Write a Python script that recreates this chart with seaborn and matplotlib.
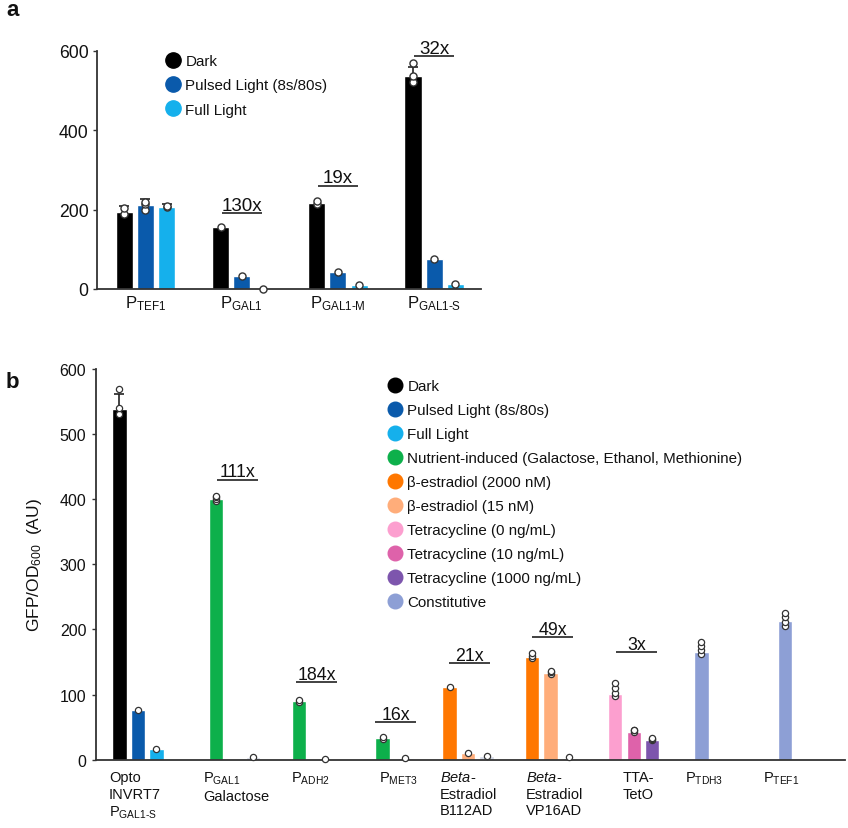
import numpy as np
import pandas as pd
import matplotlib
matplotlib.use("Agg")
import matplotlib.pyplot as plt
import seaborn as sns
from matplotlib.lines import Line2D

sns.set_theme(style="ticks")
plt.rcParams["font.family"] = ["Liberation Sans", "DejaVu Sans"]
plt.rcParams["mathtext.fontset"] = "custom"
plt.rcParams["mathtext.rm"] = "Liberation Sans"
plt.rcParams["mathtext.it"] = "Liberation Sans:italic"
plt.rcParams["mathtext.bf"] = "Liberation Sans:bold"
plt.rcParams["text.color"] = "#111111"
plt.rcParams["ytick.labelcolor"] = "#111111"
plt.rcParams["xtick.labelcolor"] = "#111111"

# ---------------- data: panel a ----------------
a_promoters = ["TEF1", "GAL1", "GAL1-M", "GAL1-S"]
a_conditions = ["Dark", "Pulsed Light (8s/80s)", "Full Light"]
a_dark = [195, 157, 216, 536]
a_pulsed = [213, 32, 44, 76]
a_full = [207, 1, 9, 13]
a_dark_err = [15, 0, 0, 24]
a_pulsed_err = [14, 0, 0, 0]
a_full_err = [8, 0, 0, 0]
a_dark_pts = [[190, 203], [157], [214, 223], [521, 536, 569]]
a_pulsed_pts = [[199, 214, 220], [32], [44], [75]]
a_full_pts = [[207, 210], [1], [9], [13]]
a_fold_labels = ["130x", "19x", "32x"]
a_fold_groups = [1, 2, 3]
a_fold_heights = [191, 260, 587]

# ---------------- data: panel b ----------------
b_groups = [
    "Opto\nINVRT7\nP$_{\\text{GAL1-S}}$",
    "P$_{\\text{GAL1}}$\nGalactose",
    "P$_{\\text{ADH2}}$",
    "P$_{\\text{MET3}}$",
    "$\\mathit{Beta}$-\nEstradiol\nB112AD",
    "$\\mathit{Beta}$-\nEstradiol\nVP16AD",
    "TTA-\nTetO",
    "P$_{\\text{TDH3}}$",
    "P$_{\\text{TEF1}}$",
]
b_conditions = [
    "Dark", "Pulsed Light (8s/80s)", "Full Light",
    "Nutrient-induced (Galactose, Ethanol, Methionine)",
    "β-estradiol (2000 nM)", "β-estradiol (15 nM)",
    "Tetracycline (0 ng/mL)", "Tetracycline (10 ng/mL)",
    "Tetracycline (1000 ng/mL)", "Constitutive",
]
b_colors = ["#000000", "#0a5aab", "#15b0ec", "#0db04b", "#ff7700",
            "#ffad7a", "#fc9fcf", "#de62aa", "#7d55ad", "#8d9fd5"]
uninduced_color = "#d3d8e6"

b_bar_group = [0, 0, 0, 1, 1, 2, 2, 3, 3, 4, 4, 4, 5, 5, 5, 6, 6, 6, 7, 8]
b_bar_cond = [
    "Dark", "Pulsed Light (8s/80s)", "Full Light",
    "Nutrient-induced (Galactose, Ethanol, Methionine)", "Uninduced",
    "Nutrient-induced (Galactose, Ethanol, Methionine)", "Uninduced",
    "Nutrient-induced (Galactose, Ethanol, Methionine)", "Uninduced",
    "β-estradiol (2000 nM)", "β-estradiol (15 nM)", "Uninduced",
    "β-estradiol (2000 nM)", "β-estradiol (15 nM)", "Uninduced",
    "Tetracycline (0 ng/mL)", "Tetracycline (10 ng/mL)", "Tetracycline (1000 ng/mL)",
    "Constitutive", "Constitutive",
]
b_bar_value = [538, 77, 17, 401, 3.6, 90.6, 0.5, 33, 2, 112, 10.5, 5.3,
               158, 133, 3.2, 101, 43, 30, 166, 213]
b_bar_err = [24, 0, 0, 0, 0, 0, 0, 0, 0, 0, 0, 0, 0, 0, 0, 0, 0, 0, 0, 0]
b_bar_pts = [[531, 540, 569], [77], [17], [397, 400, 403, 405], [3.6],
             [89, 91.5], [0.5], [32, 35], [2], [112], [11], [5],
             [156, 160, 164], [132, 134, 136], [3.5],
             [97.5, 102, 110, 118], [43, 45, 46], [30, 32, 33],
             [162, 168, 174, 180], [205, 212, 219, 225]]
b_fold_labels = ["111x", "184x", "16x", "21x", "49x", "3x"]
b_fold_heights = [430, 119, 57.4, 148.5, 188, 165]

# ---------------- layout (slot units for panel b) ----------------
b_group_center = [1.0, 6.22, 10.405, 14.84, 18.84, 23.3, 27.8, 31.46, 35.97]
b_bar_offset = [-1, 0, 1, -1, 1, -0.705, 0.705, -0.62, 0.62,
                -1, 0, 1, -1, 0, 1, -1, 0, 1, 0, 0]
b_label_x = [-0.57, 4.51, 9.27, 14.03, 17.32, 21.97, 27.22, 30.57, 34.78]
b_fold_x0 = [5.27, 9.54, 13.81, 17.81, 22.30, 26.84]
b_fold_len = 2.22

W, H = 848, 829
fig = plt.figure(figsize=(W / 100, H / 100), dpi=100)


def rect(x0, y0, x1, y1):
    return [x0 / W, 1 - y1 / H, (x1 - x0) / W, (y1 - y0) / H]


ax_a = fig.add_axes(rect(97, 52, 481, 290))
ax_b = fig.add_axes(rect(96, 370, 845, 760.7))

palette = dict(zip(b_conditions, b_colors))
palette["Uninduced"] = uninduced_color
spine_col = "#333333"
pt_edge = "#333333"

# ================= panel a =================
rows = []
for i, p in enumerate(a_promoters):
    for cond, vals in zip(a_conditions, [a_dark, a_pulsed, a_full]):
        rows.append({"promoter": p, "condition": cond, "value": vals[i]})
df_a = pd.DataFrame(rows)
sns.barplot(data=df_a, x="promoter", y="value", hue="condition",
            order=a_promoters, hue_order=a_conditions, palette=palette,
            width=0.66, gap=0.19, saturation=1, errorbar=None,
            legend=False, ax=ax_a, zorder=2)

slot_a = 0.66 / 3
prow = []
for k, (pts_list, vals, errs) in enumerate(zip(
        [a_dark_pts, a_pulsed_pts, a_full_pts],
        [a_dark, a_pulsed, a_full],
        [a_dark_err, a_pulsed_err, a_full_err])):
    for i in range(len(a_promoters)):
        x = i + (k - 1) * slot_a
        for v in pts_list[i]:
            prow.append({"x": x, "y": v})
        if errs[i] > 0:
            c = ax_a.errorbar([x], [vals[i]], yerr=[[0], [errs[i]]], fmt="none",
                              ecolor="#222222", elinewidth=1.2, capsize=3.5,
                              capthick=1.2, zorder=3)
            c[1][0].set_visible(False)
df_pa = pd.DataFrame(prow)
sns.scatterplot(data=df_pa, x="x", y="y", color="white", edgecolor=pt_edge,
                linewidth=1.0, s=26, ax=ax_a, zorder=5, clip_on=False, legend=False)

for lab, g, h in zip(a_fold_labels, a_fold_groups, a_fold_heights):
    ax_a.plot([g - 0.21, g + 0.21], [h, h], color=spine_col, lw=1.3,
              clip_on=False, solid_capstyle="butt")
    ax_a.annotate(lab, xy=(g, h), xytext=(0, 2.5), textcoords="offset points",
                  ha="center", va="baseline", fontsize=13.5)

ax_a.set_xlim(-0.504, 3.487)
ax_a.set_ylim(0, 600)
ax_a.set_yticks([0, 200, 400, 600])
ax_a.set_xticks(range(len(a_promoters)))
ax_a.set_xticklabels(["P$_{\\text{%s}}$" % p for p in a_promoters], fontsize=12)
ax_a.tick_params(axis="x", length=0, pad=3)
ax_a.tick_params(axis="y", labelsize=12.7, length=3, width=1, pad=3,
                 direction="out", color=spine_col)
ax_a.set_xlabel("")
ax_a.set_ylabel("")
for s in ["top", "right"]:
    ax_a.spines[s].set_visible(False)
for s in ["left", "bottom"]:
    ax_a.spines[s].set_color(spine_col)
    ax_a.spines[s].set_linewidth(1.3)

handles_a = [Line2D([], [], marker="o", linestyle="", markersize=11,
                    markerfacecolor=palette[c], markeredgecolor=palette[c], label=c)
             for c in a_conditions]
ax_a.legend(handles=handles_a, loc="upper left",
            bbox_to_anchor=(165 / W, 1 - 55 / H),
            bbox_transform=fig.transFigure, frameon=False, fontsize=10.9,
            handlelength=1.0, handletextpad=0.35, labelspacing=0.68,
            borderpad=0, borderaxespad=0)

# ================= panel b =================
b_pos = [b_group_center[g] + o for g, o in zip(b_bar_group, b_bar_offset)]
df_b = pd.DataFrame({"pos": b_pos, "value": b_bar_value, "condition": b_bar_cond})
sns.barplot(data=df_b, x="pos", y="value", hue="condition", palette=palette,
            native_scale=True, dodge=False, width=0.78, saturation=1,
            errorbar=None, legend=False, ax=ax_b, zorder=2)

prow = []
for x, v, e, pts in zip(b_pos, b_bar_value, b_bar_err, b_bar_pts):
    for p in pts:
        prow.append({"x": x, "y": p})
    if e > 0:
        c = ax_b.errorbar([x], [v], yerr=[[0], [e]], fmt="none", ecolor="#222222",
                          elinewidth=1.2, capsize=3.5, capthick=1.2, zorder=3)
        c[1][0].set_visible(False)
df_pb = pd.DataFrame(prow)
sns.scatterplot(data=df_pb, x="x", y="y", color="white", edgecolor=pt_edge,
                linewidth=0.9, s=20, ax=ax_b, zorder=5, clip_on=False, legend=False)

for lab, x0, h in zip(b_fold_labels, b_fold_x0, b_fold_heights):
    ax_b.plot([x0, x0 + b_fold_len], [h, h], color=spine_col, lw=1.3,
              clip_on=False, solid_capstyle="butt")
    ax_b.annotate(lab, xy=(x0 + b_fold_len / 2, h), xytext=(0, 2.5),
                  textcoords="offset points", ha="center", va="baseline",
                  fontsize=12.8)

ax_b.set_xlim(-1.27, 39.22)
ax_b.set_ylim(0, 600)
ax_b.set_yticks([0, 100, 200, 300, 400, 500, 600])
ax_b.set_xticks([])
ax_b.tick_params(axis="y", labelsize=11.5, length=3, width=1, pad=4,
                 direction="out", color=spine_col)
ax_b.set_xlabel("")
ax_b.set_ylabel("")
for s in ["top", "right"]:
    ax_b.spines[s].set_visible(False)
for s in ["left", "bottom"]:
    ax_b.spines[s].set_color(spine_col)
    ax_b.spines[s].set_linewidth(1.3)

xt = ax_b.get_xaxis_transform()
for lab, x in zip(b_groups, b_label_x):
    ax_b.text(x, -0.026, lab, transform=xt, ha="left", va="top",
              fontsize=10.5, linespacing=1.25)

handles_b = [Line2D([], [], marker="o", linestyle="", markersize=10.5,
                    markerfacecolor=col, markeredgecolor=col, label=c)
             for c, col in zip(b_conditions, b_colors)]
ax_b.legend(handles=handles_b, loc="upper left",
            bbox_to_anchor=(387 / W, 1 - 380 / H), bbox_transform=fig.transFigure,
            frameon=False, fontsize=10.9, handlelength=1.0, handletextpad=0.35,
            labelspacing=0.66, borderpad=0, borderaxespad=0)

fig.text(35 / W, 1 - 565 / H, "GFP/OD$_{600}$  (AU)", rotation=90,
         ha="center", va="center", fontsize=12.5)

fig.text(6 / W, 1 - 16 / H, "a", fontsize=16, fontweight="bold", va="baseline")
fig.text(6 / W, 1 - 388 / H, "b", fontsize=16, fontweight="bold", va="baseline")

fig.savefig("out.png", dpi=100)
